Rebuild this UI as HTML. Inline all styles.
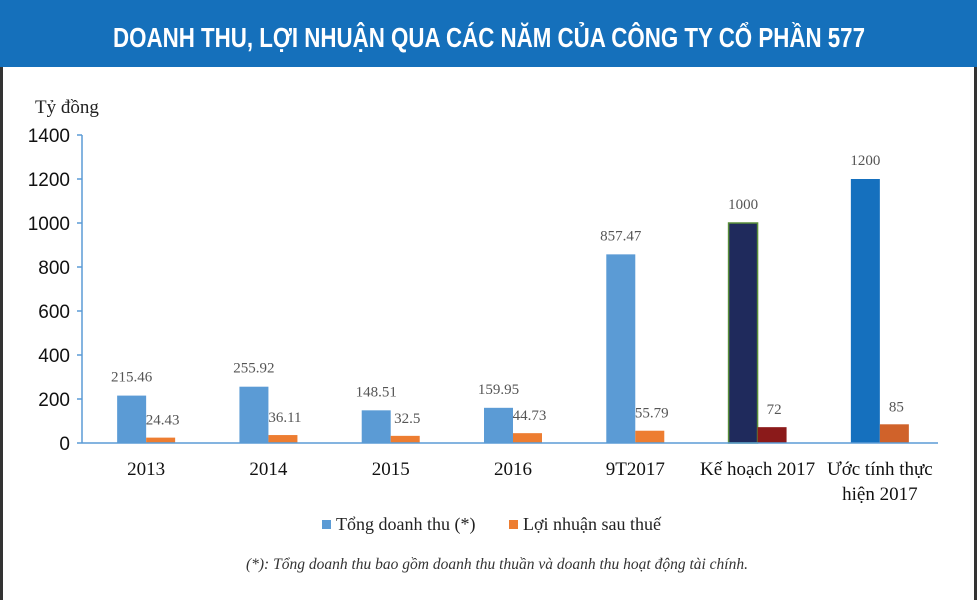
<!DOCTYPE html>
<html><head><meta charset="utf-8"><style>
body{margin:0;background:#fff}
svg{display:block}
</style></head><body>
<svg width="977" height="600" viewBox="0 0 977 600" xmlns="http://www.w3.org/2000/svg">
<rect x="0" y="0" width="977" height="600" fill="#fff"/>
<rect x="0" y="0" width="977" height="67" fill="#1570bb"/>
<text x="489" y="47" text-anchor="middle" fill="#fff" font-family="Liberation Sans, sans-serif" font-weight="bold" font-size="28" textLength="752" lengthAdjust="spacingAndGlyphs">DOANH THU, LỢI NHUẬN QUA CÁC NĂM CỦA CÔNG TY CỔ PHẦN 577</text>
<line x1="1.5" y1="67" x2="1.5" y2="600" stroke="#333" stroke-width="3"/>
<line x1="975.5" y1="67" x2="975.5" y2="600" stroke="#333" stroke-width="3"/>
<text x="35" y="113" font-family="Liberation Serif, serif" font-size="19" fill="#222">Tỷ đồng</text>
<g id="plot"></g>
<g>
<rect x="322" y="520" width="9" height="9" fill="#5b9bd5"/>
<text x="336" y="530" font-family="Liberation Serif, serif" font-size="18" fill="#222">Tổng doanh thu (*)</text>
<rect x="509" y="520" width="9" height="9" fill="#ed7d31"/>
<text x="523" y="530" font-family="Liberation Serif, serif" font-size="18" fill="#222">Lợi nhuận sau thuế</text>
</g>
<text x="497" y="569" text-anchor="middle" font-family="Liberation Serif, serif" font-style="italic" font-size="15.5" fill="#333">(*): Tổng doanh thu bao gồm doanh thu thuần và doanh thu hoạt động tài chính.</text>
</svg>
<script>
const categories = ["2013","2014","2015","2016","9T2017","Kế hoạch 2017","Ước tính thực|hiện 2017"];
const revenue = [215.46,255.92,148.51,159.95,857.47,1000,1200];
const profit = [24.43,36.11,32.5,44.73,55.79,72,85];
const revenueLabels = ["215.46","255.92","148.51","159.95","857.47","1000","1200"];
const profitLabels = ["24.43","36.11","32.5","44.73","55.79","72","85"];
const yTicks = [0,200,400,600,800,1000,1200,1400];
const revColors = ["#5b9bd5","#5b9bd5","#5b9bd5","#5b9bd5","#5b9bd5","#1f2a5c","#1570be"];
const profColors = ["#ed7d31","#ed7d31","#ed7d31","#ed7d31","#ed7d31","#8b1a1a","#d0622a"];

const NS="http://www.w3.org/2000/svg";
const g=document.getElementById('plot');
const x0=82,x1=938,yZero=443,yTop=135,yMax=1400;
const band=(x1-x0)/categories.length;
const y=v=>yZero-(v/yMax)*(yZero-yTop);
const cx=i=>x0+band*(i+0.5)+3;
const bw=29;
function mk(tag,attrs,text){const e=document.createElementNS(NS,tag);for(const k in attrs)e.setAttribute(k,attrs[k]);if(text!==undefined)e.textContent=text;g.appendChild(e);return e;}

yTicks.forEach(t=>{
  const tk=mk('line',{x1:x0-5,x2:x0,y1:y(t),y2:y(t),stroke:'#5b9bd5','stroke-width':1.5});
  
  
  const lb=mk('text',{x:70,y:y(t)+7,'text-anchor':'end','font-family':'Liberation Sans, sans-serif','font-size':19,fill:'#111'},String(t));
  
  
});
const ya=mk('line',{x1:x0,x2:x0,y1:yTop,y2:yZero,stroke:'#5b9bd5','stroke-width':1.5});



categories.forEach((c,i)=>{
  const r=mk('rect',{x:cx(i)-bw,y:y(revenue[i]),width:bw,height:yZero-y(revenue[i]),fill:revColors[i]});
  if(i===5){r.setAttribute('stroke','#5a8f3a');r.setAttribute('stroke-width','1.5');}
  
  
  const p=mk('rect',{x:cx(i),y:y(profit[i]),width:bw,height:yZero-y(profit[i]),fill:profColors[i]});
  
  
  const rl=mk('text',{x:cx(i)-bw/2,y:y(revenue[i])-14,'text-anchor':'middle','font-family':'Liberation Serif, serif','font-size':15,fill:'#555'},revenueLabels[i]);
  
  
  const pl=mk('text',{x:cx(i)+bw/2+2,y:y(profit[i])-13,'text-anchor':'middle','font-family':'Liberation Serif, serif','font-size':15,fill:'#555'},profitLabels[i]);
  
  
  const lines=c.split('|');
  lines.forEach((ln,j)=>{
    const t=mk('text',{x:cx(i),y:475+j*25,'text-anchor':'middle','font-family':'Liberation Serif, serif','font-size':19,fill:'#111'},ln);
    
    
  });
});
const xa=mk('line',{x1:x0,x2:x1,y1:yZero,y2:yZero,stroke:'#5b9bd5','stroke-width':1.5});


</script>
</body></html>
